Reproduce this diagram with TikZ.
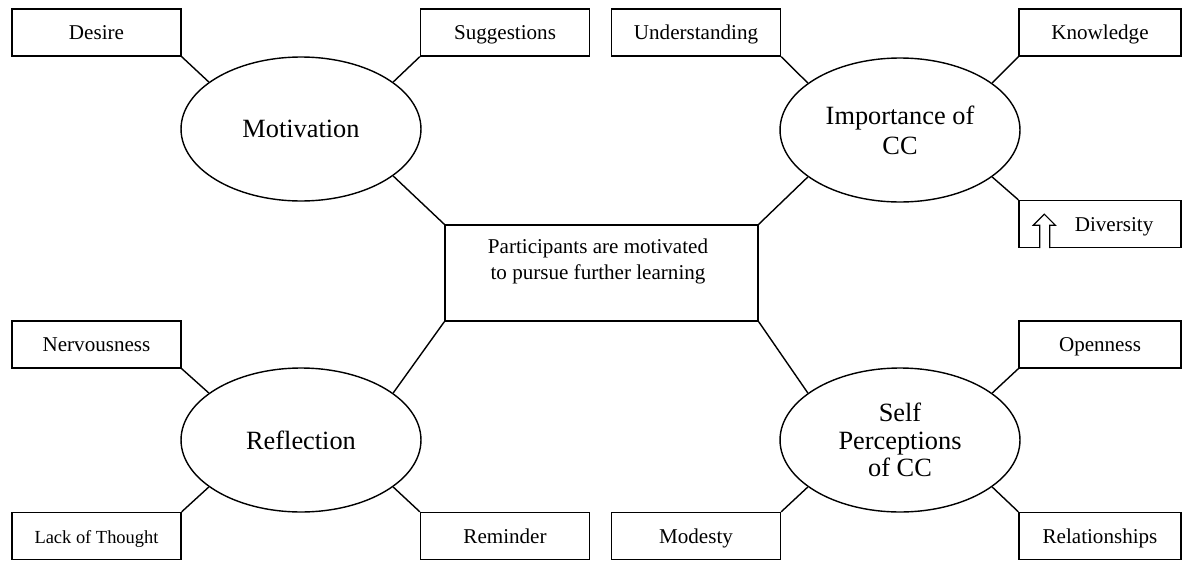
\documentclass[tikz,border=0pt]{standalone}
\usepackage{fontspec}
\setmainfont{Liberation Serif}
\usetikzlibrary{shapes.geometric}
\usetikzlibrary{positioning}

\begin{document}
\begin{tikzpicture}[x=0.02cm, y=-0.02cm, line width=0.8pt]
	\tikzstyle{leaf}=[rectangle, draw, minimum width=3.38cm, minimum height=0.94cm,
	                        inner sep=0pt, text height=10pt, text depth=2pt,
	                        font=\fontsize{12}{14}\selectfont];
	\tikzstyle{rleaf}=[leaf, minimum width=3.24cm];
	\tikzstyle{theme}=[ellipse, draw, minimum width=4.8cm, minimum height=2.88cm,
	                        inner sep=0pt, align=center, font=\fontsize{15}{17}\selectfont];
	\useasboundingbox (0,0) rectangle (1182,561);
	\node[theme] (mot) at (301,129) {Motivation};
	\node[theme] (imp) at (900,130) {Importance of\\CC};
	\node[theme] (refl) at (301,440) {Reflection};
	\node[theme, font=\fontsize{15}{15.8}\selectfont] (self) at (900,440) {Self\\Perceptions\\of CC};
	\node[draw, minimum width=6.26cm, minimum height=1.92cm] (core) at (601.5,273) {};
	\node[align=center, font=\fontsize{12}{15.3}\selectfont] (coretxt) at (598,261.5)
	    {Participants are motivated\\to pursue further learning};
	\node[leaf] (desire) at (96.5,32.5) {Desire};
	\node[leaf] (sugg) at (505,32.5) {Suggestions};
	\node[leaf] (und) at (696,32.5) {Understanding};
	\node[rleaf] (know) at (1100,32.5) {Knowledge};
	\node[rleaf] (div) at (1100,224) {\hspace{16pt}Diversity};
	\node[leaf] (nerv) at (96.5,344.5) {Nervousness};
	\node[rleaf] (open) at (1100,344.5) {Openness};
	\node[leaf, font=\fontsize{10.5}{12}\selectfont] (lack) at (96.5,536) {Lack of Thought};
	\node[leaf] (rem) at (505,536) {Reminder};
	\node[leaf] (mod) at (696,536) {Modesty};
	\node[rleaf] (rel) at (1100,536) {Relationships};
	\draw
	(desire.south east) -- (mot.153)
	(sugg.south west) -- (mot.27)
	(mot.333) -- (core.north west)
	(und.south east) -- (imp.153)
	(know.south west) -- (imp.27)
	(imp.207) -- (core.north east)
	(imp.333) -- (div.north west)
	(nerv.south east) -- (refl.153)
	(refl.27) -- (core.south west)
	(lack.north east) -- (refl.207)
	(rem.north west) -- (refl.333)
	(core.south east) -- (self.153)
	(open.south west) -- (self.27)
	(mod.north east) -- (self.207)
	(rel.north west) -- (self.333)
	;
	\draw[fill=white, shift={(div.south west)}, line width=0.7pt]
	(21.5,0) -- (21.5,-23) -- (15,-23) -- (26,-34) -- (37,-23) -- (31.5,-23) -- (31.5,0);
\end{tikzpicture}
\end{document}
